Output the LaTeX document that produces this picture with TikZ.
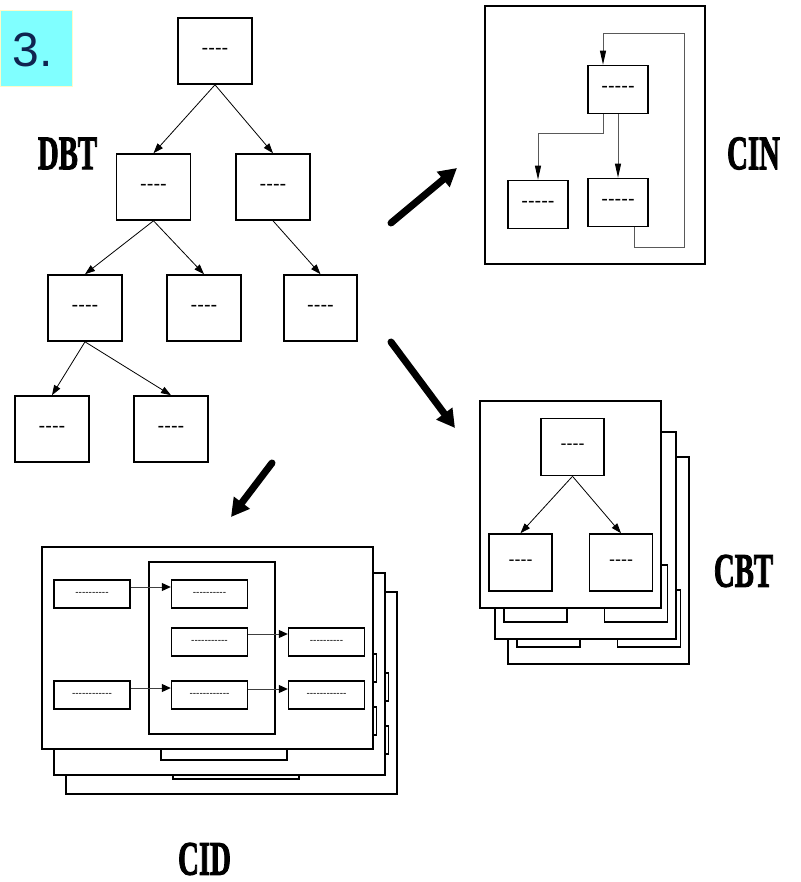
\documentclass[tikz,border=0pt]{standalone}
\usepackage{fontspec}
\setmainfont{Liberation Serif}
\newfontfamily\dashfont{Liberation Sans}
\newfontfamily\lblfont[FakeBold=2.5]{Liberation Serif Bold}
\usetikzlibrary{arrows.meta}
\definecolor{cyanbg}{RGB}{128,255,255}
\definecolor{ybord}{RGB}{255,250,200}
\definecolor{numblue}{RGB}{16,36,80}
\def\hy{-\kern0pt}
\newif\ifshowtext
\showtexttrue
\newcommand\pt[1]{\ifshowtext#1\fi}
\newcommand\cnd[1]{\scalebox{0.6}[1]{#1}}
\begin{document}
\begin{tikzpicture}[x=1pt,y=-1pt,
  lbl/.style={inner sep=0pt,font=\lblfont\fontsize{48}{48}\selectfont},
  bx/.style={draw,line width=1.6pt,fill=white,inner sep=0pt},
  tbox/.style={bx,minimum width=74pt,minimum height=66pt,font=\dashfont\fontsize{20}{20}\selectfont},
  cinbox/.style={bx,minimum width=60pt,minimum height=48pt,font=\dashfont\fontsize{20}{20}\selectfont},
  cbox/.style={bx,minimum width=63pt,minimum height=57pt,font=\dashfont\fontsize{18}{18}\selectfont},
  dbox/.style={bx,line width=1.4pt,minimum width=76pt,minimum height=28pt,font=\dashfont\fontsize{10}{10}\selectfont},
  page/.style={draw,line width=1.6pt,fill=white},
  frame/.style={draw,line width=1.1pt},
  tarrow/.style={-{Triangle[length=10pt,width=7pt]},line width=0.8pt},
  carrow/.style={-{Triangle[length=14pt,width=6pt,black]},line width=1pt,draw=black!65},
  darrow/.style={-{Triangle[length=9pt,width=8pt,black]},line width=1pt,draw=black!75},
  big/.style={-{Triangle[length=18pt,width=19pt]},line width=7pt,line cap=round},
  cbtpage/.pic={
    \draw[page] (480,401) rectangle (661,608);
    \node[cbox] (-top) at (572.5,447) {\pt{\hy\hy\hy\hy}};
    \node[cbox] (-left) at (520.5,562.5) {\pt{\hy\hy\hy\hy}};
    \node[cbox] (-right) at (621,562.5) {\pt{\hy\hy\hy\hy}};
    \draw[tarrow] (-top.south) -- (-left.north);
    \draw[tarrow] (-top.south) -- (-right.north);
  },
  cidpage/.pic={
    \draw[page] (42,547) rectangle (373,749);
    \draw[frame] (149,562) rectangle (275,734);
    \node[dbox] (-A) at (92,594) {\pt{\hy\hy\hy\hy\hy\hy\hy\hy\hy\hy}};
    \node[dbox] (-B) at (209.5,594) {\pt{\hy\hy\hy\hy\hy\hy\hy\hy\hy\hy}};
    \node[dbox] (-C) at (209.5,642) {\pt{\hy\hy\hy\hy\hy\hy\hy\hy\hy\hy\hy}};
    \node[dbox] (-D) at (326.5,642) {\pt{\hy\hy\hy\hy\hy\hy\hy\hy\hy\hy}};
    \node[dbox] (-E) at (92,695) {\pt{\hy\hy\hy\hy\hy\hy\hy\hy\hy\hy\hy\hy}};
    \node[dbox] (-F) at (209.5,695) {\pt{\hy\hy\hy\hy\hy\hy\hy\hy\hy\hy\hy\hy}};
    \node[dbox] (-G) at (326.5,695) {\pt{\hy\hy\hy\hy\hy\hy\hy\hy\hy\hy\hy\hy}};
    \draw[darrow] ([yshift=7pt]-A.east) -- ([yshift=7pt]-B.west);
    \draw[darrow] ([yshift=8pt]-C.east) -- ([yshift=8pt]-D.west);
    \draw[darrow] ([yshift=7pt]-E.east) -- ([yshift=7pt]-F.west);
    \draw[darrow] ([yshift=6pt]-F.east) -- ([yshift=6pt]-G.west);
  }]
\useasboundingbox (0,0) rectangle (800,882);
\fill[white] (0,0) rectangle (800,882);

% number box
\node[fill=cyanbg,draw=ybord,line width=1.5pt,minimum width=72pt,minimum height=76pt,inner sep=0pt] (num) at (36.5,48.5) {};
\node[inner sep=0pt,text=numblue,font=\dashfont\fontsize{48}{48}\selectfont] (numt) at (32.5,50) {3.};

% DBT tree
\node[tbox] (r) at (215,51) {\hy\hy\hy\hy};
\node[tbox] (a) at (153.5,187) {\hy\hy\hy\hy};
\node[tbox] (b) at (273,187) {\hy\hy\hy\hy};
\node[tbox] (c) at (85,308) {\hy\hy\hy\hy};
\node[tbox] (d) at (204,308) {\hy\hy\hy\hy};
\node[tbox,minimum width=73pt] (e) at (320.5,308) {\hy\hy\hy\hy};
\node[tbox] (f) at (52,429) {\hy\hy\hy\hy};
\node[tbox] (g) at (171,429) {\hy\hy\hy\hy};
\draw[tarrow] (r.south) -- (a.north);
\draw[tarrow] (r.south) -- (b.north);
\draw[tarrow] (a.south) -- (c.north);
\draw[tarrow] (a.south) -- (d.north);
\draw[tarrow] (b.south) -- (e.north);
\draw[tarrow] (c.south) -- (f.north);
\draw[tarrow] (c.south) -- (g.north);
\node[lbl] (dbt) at (67.5,153.5) {\cnd{DBT}};

% CIN
\draw[page] (485,6) rectangle (705,264);
\node[cinbox] (t) at (618,89.5) {\hy\hy\hy\hy\hy};
\node[cinbox] (l) at (538,204.5) {\hy\hy\hy\hy\hy};
\node[cinbox] (m) at (618,202.5) {\hy\hy\hy\hy\hy};
\coordinate (cj) at (538,134);
\coordinate (lb) at (684,248);
\coordinate (lt) at (603,34);
\draw[carrow] ([xshift=-15pt]t.south) |- (cj) -- (l.north);
\draw[carrow] (t.south) -- (m.north);
\draw[carrow] ([xshift=16pt]m.south) |- (lb) |- (lt) -- ([xshift=-15pt]t.north);
\node[lbl] (cin) at (753.5,153.5) {\cnd{CIN}};

% thick arrows
\coordinate (a1s) at (391,223); \coordinate (a1e) at (457,168);
\coordinate (a2s) at (391,342); \coordinate (a2e) at (455,428);
\coordinate (a3s) at (272,463); \coordinate (a3e) at (231,517);
\draw[big] (a1s) -- (a1e);
\draw[big] (a2s) -- (a2e);
\draw[big] (a3s) -- (a3e);

% CBT stack
\showtextfalse
\pic (cb3) at (28,56) {cbtpage};
\pic (cb2) at (15,31) {cbtpage};
\showtexttrue
\pic (cb1) at (0,0) {cbtpage};
\node[lbl] (cbt) at (743.5,571) {\cnd{CBT}};

% CID stack
\showtextfalse
\pic (cd3) at (24,45) {cidpage};
\pic (cd2) at (12,26) {cidpage};
\showtexttrue
\pic (cd1) at (0,0) {cidpage};
\node[lbl] (cid) at (204.5,859) {\cnd{CID}};
\end{tikzpicture}
\end{document}
